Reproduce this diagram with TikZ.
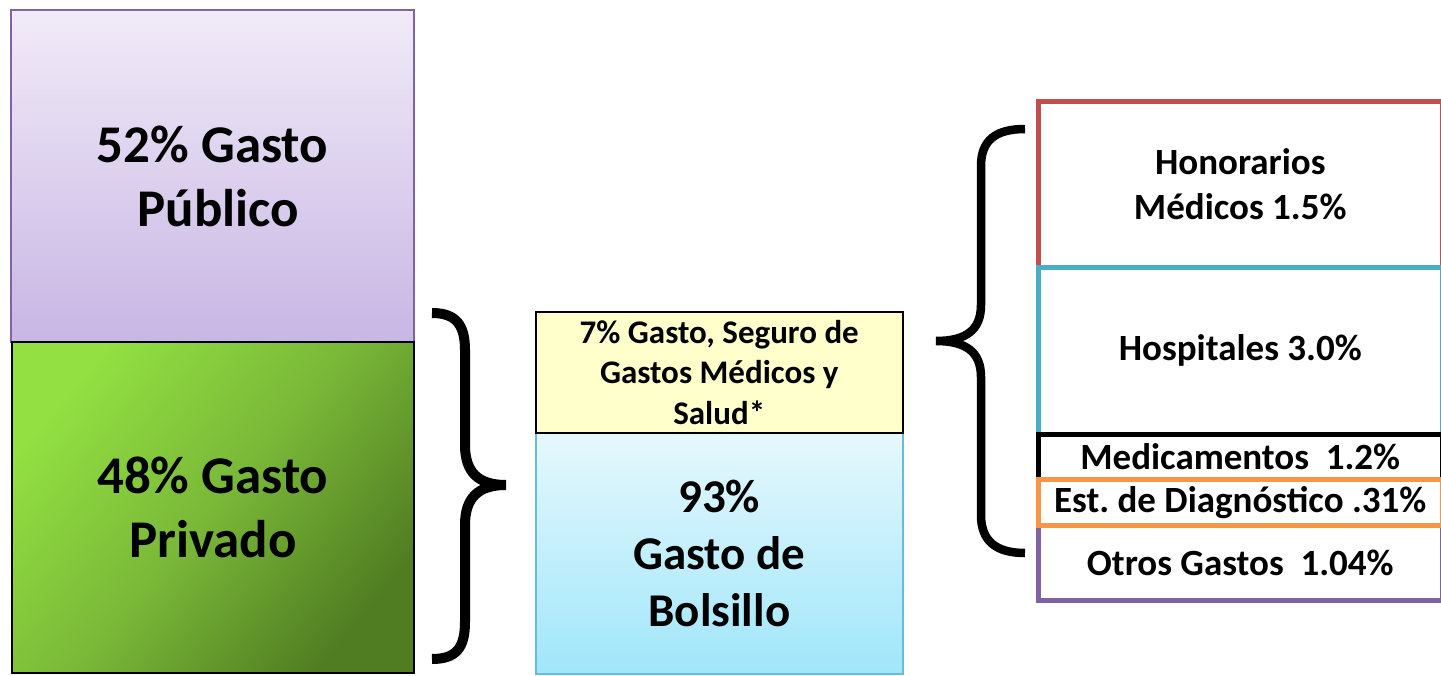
\documentclass[tikz,border=0pt]{standalone}
\usepackage{fontspec}
\setmainfont{Carlito}
\begin{document}
\begin{tikzpicture}[x=1pt,y=-1pt,
  box/.style={draw, rectangle, anchor=north west, inner sep=0pt, align=center},
  fs/.style 2 args={font=\bfseries\fontsize{#1}{#2}\selectfont},
  brace/.style={draw=black, line width=10pt, line cap=butt},
  rbox/.style={box, line width=4.5pt, fill=white, fs={37}{45}},
]
\definecolor{pubtop}{RGB}{241,235,248}
\definecolor{pubbot}{RGB}{200,182,228}
\definecolor{publine}{RGB}{128,100,162}
\definecolor{grtop}{RGB}{146,224,66}
\definecolor{grmid}{RGB}{122,184,56}
\definecolor{grbot}{RGB}{80,125,34}
\definecolor{yel}{RGB}{255,255,204}
\definecolor{cytop}{RGB}{230,248,253}
\definecolor{cybot}{RGB}{160,230,250}
\definecolor{cyline}{RGB}{100,190,215}
\definecolor{cred}{RGB}{192,80,77}
\definecolor{cblue}{RGB}{75,172,198}
\definecolor{corange}{RGB}{247,150,70}
\definecolor{cpurple}{RGB}{128,100,162}

\useasboundingbox (0,0) rectangle (1441,675);

% left column
\node[box, draw=publine, line width=2pt, top color=pubtop, bottom color=pubbot,
  minimum width=403pt, minimum height=332pt, fs={53}{64}] (pub) at (10,9)
  {52\% Gasto\\ \ Público};
\node[box, draw=black, line width=1.5pt, top color=grtop, bottom color=grbot, middle color=grmid, shading angle=50,
  minimum width=402pt, minimum height=331pt, fs={53}{64}] (priv) at (11,341)
  {48\% Gasto\\ Privado};

% left brace
\draw[brace] (432,313) .. controls (456,313) and (465,325) .. (465,350) -- (465,445)
  .. controls (465,472) and (478,485) .. (506,485)
  .. controls (478,485) and (465,498) .. (465,525) -- (465,622)
  .. controls (465,648) and (456,659) .. (432,659);

% middle column
\node[box, draw=cyline, line width=1.5pt, top color=cytop, bottom color=cybot,
  minimum width=367pt, minimum height=241pt, fs={47}{57}] (bol) at (535,432)
  {93\%\\ Gasto de\\ Bolsillo};
\node[box, draw=black, line width=1.5pt, fill=yel,
  minimum width=367pt, minimum height=121pt, fs={33}{40.5}] (seg) at (535,311)
  {7\% Gasto, Seguro de\\ Gastos Médicos y\\ Salud*};

% right brace
\draw[brace, line width=8.5pt] (1025,129) .. controls (996,129) and (981,140) .. (981,166) -- (981,305)
  .. controls (981,330) and (966,341) .. (936,341)
  .. controls (966,341) and (981,352) .. (981,377) -- (981,515)
  .. controls (981,541) and (996,553) .. (1025,553);

% right column
\node[rbox, draw=cred, minimum width=404pt, minimum height=166pt] (hon) at (1036,99)
  {Honorarios\\ Médicos 1.5\%};
\node[rbox, draw=cblue, minimum width=404pt, minimum height=167pt] (hos) at (1036,265)
  {Hospitales 3.0\%};
\node[rbox, draw=black, minimum width=404pt, minimum height=45pt] (med) at (1036,432)
  {Medicamentos\ \ 1.2\%};
\node[rbox, draw=cpurple, minimum width=404pt, minimum height=75pt] (otr) at (1036,523)
  {Otros Gastos\ \ 1.04\%};
\node[rbox, draw=corange, minimum width=404pt, minimum height=46pt] (est) at (1036,477)
  {Est.\ de Diagnóstico .31\%};
\end{tikzpicture}
\end{document}
